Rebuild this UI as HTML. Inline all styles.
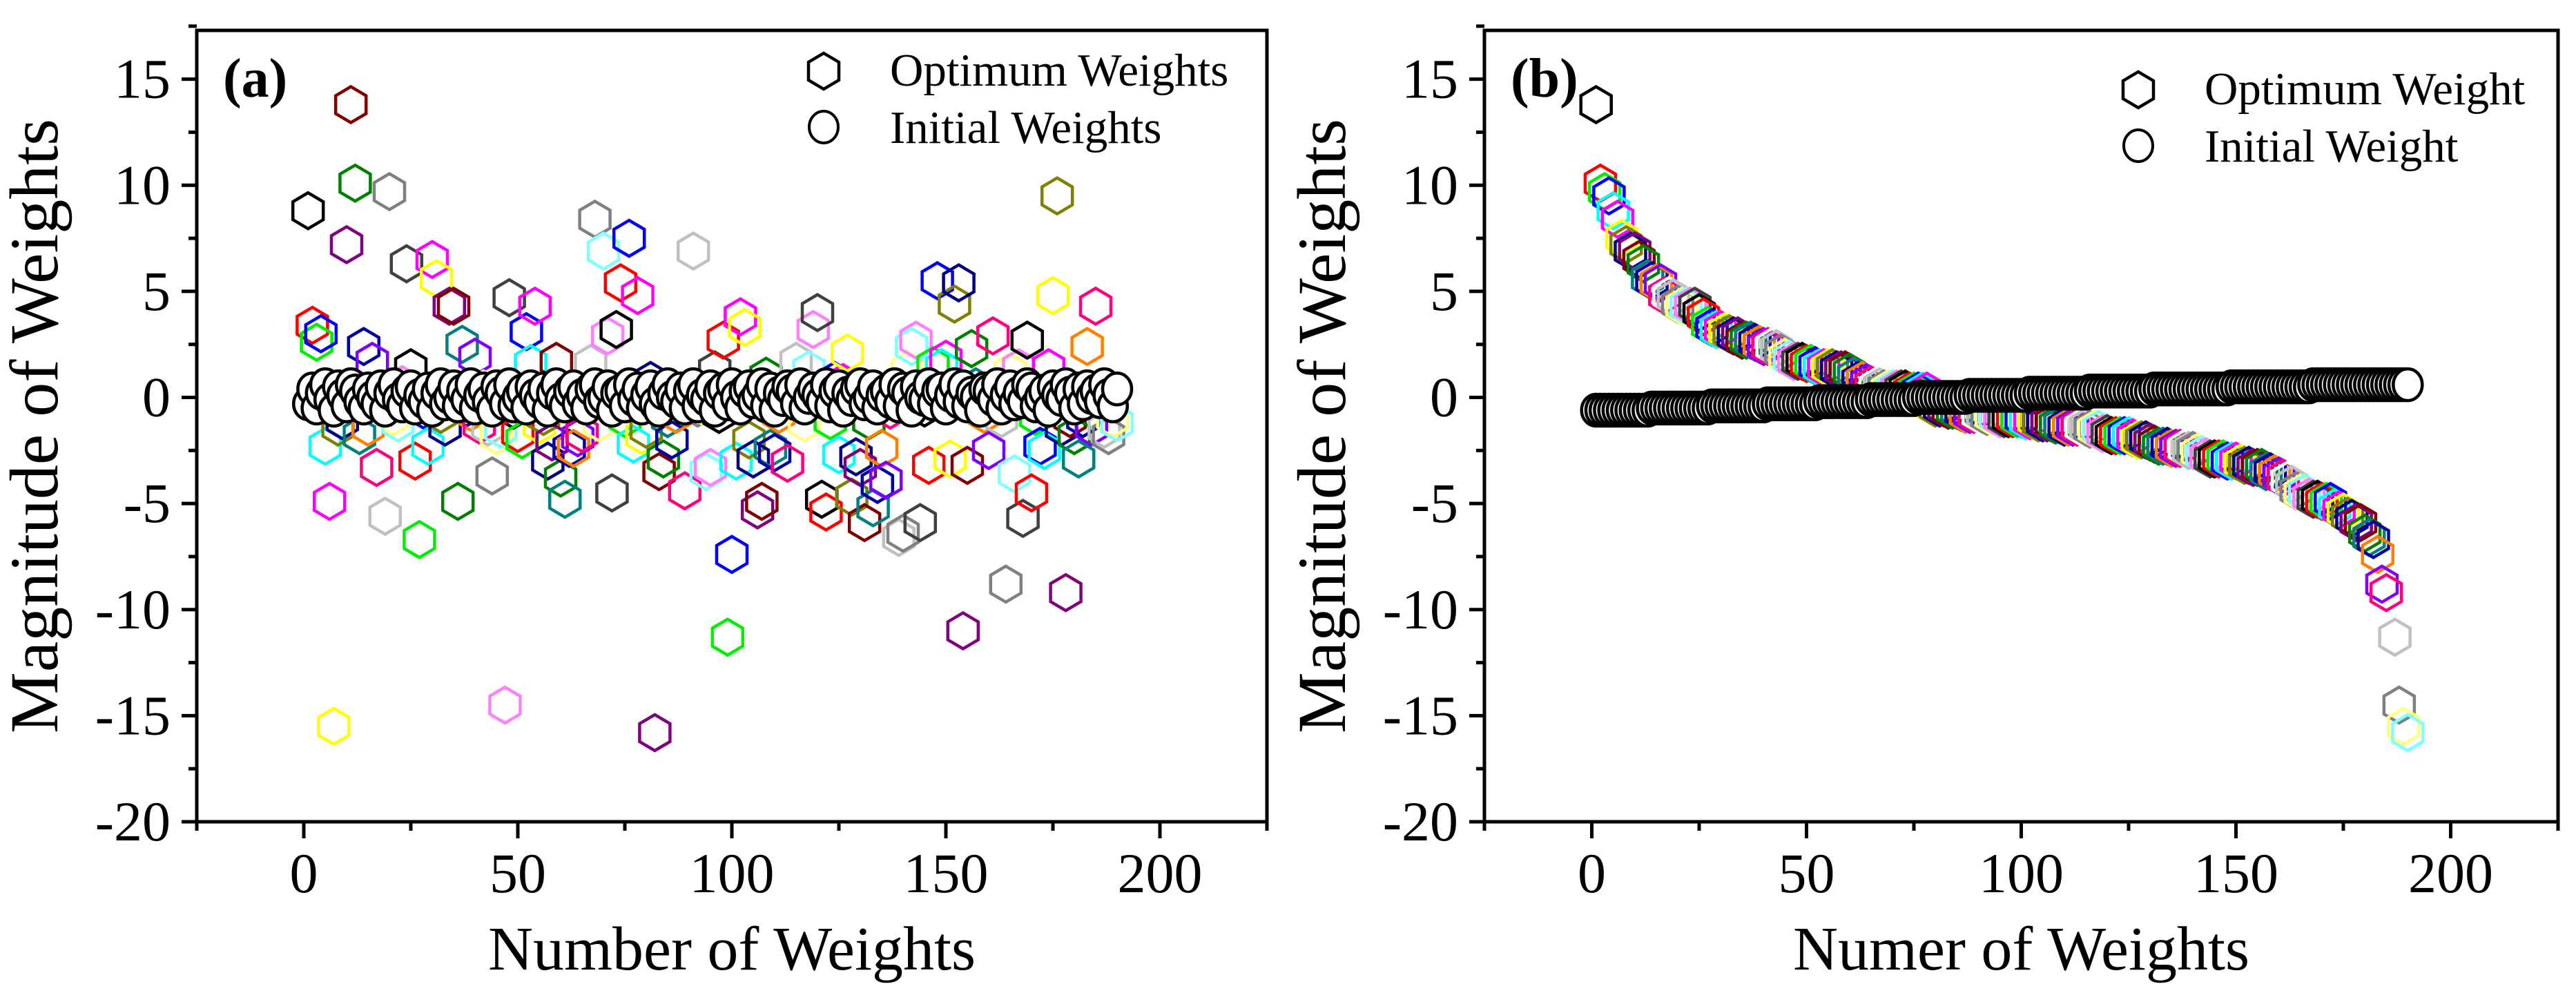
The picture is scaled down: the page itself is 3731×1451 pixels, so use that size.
<!DOCTYPE html>
<html><head><meta charset="utf-8"><style>
html,body{margin:0;padding:0;background:#fff;}
svg{display:block;font-family:"Liberation Serif","DejaVu Serif",serif;}
text{font-family:"Liberation Serif","DejaVu Serif",serif;}
</style></head><body>
<svg id="chart" width="3731" height="1451" viewBox="0 0 3731 1451" xmlns="http://www.w3.org/2000/svg">
<rect width="3731" height="1451" fill="#fff"/>
</svg>
<script>
// ---- data ----
const xTicks = [0, 50, 100, 150, 200];
const yTicks = [15, 10, 5, 0, -5, -10, -15, -20];
const optimumWeights = [
8.8,3.4,2.6,3.0,-2.3,-4.9,-15.5,-1.4,-1.1,7.2,13.8,10.1,-1.8,2.4,-1.4,1.7,-3.3,0.5,-5.6,9.7,
-0.9,-1.2,0.6,6.3,1.4,-3.0,-6.7,-0.6,-2.3,6.5,5.6,-0.8,-1.4,4.3,4.3,-4.9,2.5,-0.5,-0.7,1.9,
-1.3,0.4,-1.4,-3.7,-1.8,-1.5,-14.5,4.7,-0.6,-1.7,-2.0,3.1,1.6,4.3,-1.3,-0.9,-3.0,-2.1,1.7,-3.8,
-4.8,-2.4,-2.4,-1.9,-1.7,0.3,1.6,8.4,-1.2,6.9,2.9,-4.5,3.2,5.4,-1.0,7.5,-2.2,4.8,-1.8,-1.5,
0.8,-15.8,-3.5,-2.9,-1.0,-2.0,-0.8,0.3,-4.4,0.4,6.9,-0.5,-0.4,-3.5,-3.3,1.3,-0.8,2.7,-11.3,-7.4,
-3.0,3.8,3.3,-2.0,-2.9,-5.3,-4.9,1.0,-2.4,-2.6,-0.8,0.3,-3.1,0.4,1.7,0.3,-1.2,1.3,3.2,4.0,
-4.8,-5.4,-1.1,0.8,-2.7,0.7,2.1,-4.7,-2.8,-3.3,-5.9,-1.1,-5.2,-4.1,-2.4,-3.9,-0.6,0.4,-6.6,-6.4,
1.3,2.4,2.7,-5.9,-0.5,-3.2,1.5,5.5,1.4,1.8,-2.9,4.4,5.4,-11.0,-3.2,2.3,0.5,0.3,-0.8,-2.5,
2.9,0.4,-1.0,-8.8,1.2,-3.6,1.4,-5.7,2.7,-4.5,-0.9,-2.3,-2.5,1.4,4.8,9.5,-1.4,-9.2,-1.0,-1.8,
-2.9,-1.0,2.4,-1.4,4.3,0.4,-1.5,-1.8,-1.0,-1.2];
const initialWeights = [
-0.3,0.4,-0.5,0.2,0.6,-0.1,-0.6,0.5,0.1,-0.4,0.6,0.3,-0.2,-0.5,0.4,0.0,-0.3,0.5,-0.6,0.2,
0.6,-0.1,-0.4,0.3,0.5,-0.5,0.1,-0.2,0.4,-0.6,0.2,0.6,-0.3,0.0,0.5,-0.4,0.3,-0.1,0.6,-0.5,
0.1,0.4,-0.2,-0.6,0.5,0.2,-0.3,0.6,-0.4,0.0,0.3,-0.5,0.5,0.1,-0.2,0.4,-0.6,0.2,0.6,-0.1,
-0.4,0.3,0.5,-0.3,0.1,-0.5,0.4,0.6,-0.2,0.0,0.5,-0.6,0.2,0.3,-0.4,0.6,-0.1,0.4,-0.5,0.1,
0.5,-0.3,-0.6,0.2,0.6,0.0,-0.2,0.4,-0.5,0.3,0.6,-0.4,0.1,-0.1,0.5,-0.6,0.2,0.4,-0.3,0.6,
0.0,-0.5,0.3,0.5,-0.2,0.1,0.6,-0.4,0.4,-0.6,0.2,-0.1,0.5,0.3,-0.3,0.6,-0.5,0.0,0.4,0.1,
-0.2,0.6,-0.4,0.3,0.5,-0.6,0.2,-0.1,0.4,0.6,-0.3,0.0,0.5,-0.5,0.1,0.3,-0.2,0.6,-0.4,0.4,
0.2,-0.6,0.5,0.0,-0.1,0.6,-0.3,0.3,0.4,-0.5,0.1,0.6,-0.2,0.5,-0.4,0.2,0.0,-0.6,0.4,0.3,
-0.1,0.6,-0.5,0.1,0.5,-0.3,0.2,-0.2,0.6,0.4,-0.4,0.0,0.3,-0.6,0.5,0.1,-0.1,0.6,0.2,-0.5,
0.4,-0.3,0.5,0.0,0.3,-0.2,0.6,0.1,-0.4,0.4];
const palette = ["#000000","#ff0000","#00ee00","#0000ff","#00ffff","#ff00ff","#ffff00","#808000",
"#000080","#800080","#800000","#008000","#008080","#0000a0","#ff8000","#8000ff","#ff0080","#ffffff",
"#c0c0c0","#808080","#ffff80","#80ffff","#ff80ff","#404040"];

const NS = "http://www.w3.org/2000/svg";
const FONT = "Liberation Serif, DejaVu Serif, serif";
const svgEl = document.getElementById("chart");
function mk(tag, attrs, parent){
  const e = document.createElementNS(NS, tag);
  for (const k in attrs) e.setAttribute(k, attrs[k]);
  if (tag === "text") e.setAttribute("font-family", FONT);
  (parent || svgEl).appendChild(e);
  return e;
}
const X0 = -25, X1 = 225, Y0 = -20, Y1 = 17.3;
const plotTop = 44, plotBottom = 1190;
const hexPts = "0,-26 22,-13 22,13 0,26 -22,13 -22,-13";

function drawPanel(id, left, right, optVals, initVals, label, xTitle, legendNames, legendDy){
  const g = mk("g", {});
  
  
  const sx = v => left + (v - X0) / (X1 - X0) * (right - left);
  const sy = v => plotBottom - (v - Y0) / (Y1 - Y0) * (plotBottom - plotTop);

  const mg = mk("g", {}, g);
  
  
  optVals.forEach((v, i) => {
    const p = mk("polygon", {points: hexPts, transform: "translate(" + sx(i + 1) + "," + sy(v) + ")",
      fill: "none", stroke: palette[i % palette.length], "stroke-width": 4.5}, mg);
    
    
  });
  const cg = mk("g", {}, g);
  
  
  initVals.forEach((v, i) => {
    const c = mk("ellipse", {cx: sx(i + 1), cy: sy(v), rx: 21, ry: 23, fill: "#fff", stroke: "#000", "stroke-width": 4.5}, cg);
    
    
  });

  const fr = mk("rect", {x: left, y: plotTop, width: right - left, height: plotBottom - plotTop, fill: "none", stroke: "#000", "stroke-width": 5}, g);
  
  

  for (let v = -25; v <= 225; v += 25) {
    const major = v % 50 === 0;
    const t = mk("line", {x1: sx(v), x2: sx(v), y1: plotBottom, y2: plotBottom + (major ? 24 : 13), stroke: "#000", "stroke-width": 5}, g);
    
    
  }
  xTicks.forEach(v => {
    const t = mk("text", {x: sx(v), y: 1292, "text-anchor": "middle", "font-size": 82}, g);
    t.textContent = v;
    
    
  });
  for (let v = -20; v <= 17.5; v += 2.5) {
    const major = v % 5 === 0;
    const t = mk("line", {x1: left, x2: left - (major ? 22 : 12), y1: sy(v), y2: sy(v), stroke: "#000", "stroke-width": 5}, g);
    
    
  }
  yTicks.forEach(v => {
    const t = mk("text", {x: left - 38, y: sy(v) + 27, "text-anchor": "end", "font-size": 82}, g);
    t.textContent = v;
    
    
  });
  const xt = mk("text", {x: (left + right) / 2, y: 1404, "text-anchor": "middle", "font-size": 90}, g);
  xt.textContent = xTitle;
  
  
  const yt = mk("text", {x: 0, y: 0, "text-anchor": "middle", "font-size": 100,
    transform: "translate(" + (left - 202) + "," + (plotTop + plotBottom) / 2 + ") rotate(-90)"}, g);
  yt.textContent = "Magnitude of Weights";
  
  
  const pl = mk("text", {x: left + 38, y: 140, "font-size": 80, "font-weight": "bold"}, g);
  pl.textContent = label;
  
  

  const lg = mk("g", {}, g);
  
  
  const lx = right - (id === 'a' ? 642 : 608);
  const e1 = mk("polygon", {points: hexPts, transform: "translate(" + lx + "," + (103 + legendDy) + ")", fill: "none", stroke: "#000", "stroke-width": 4.5}, lg);
  
  
  const t1 = mk("text", {x: lx + 96, y: 124 + legendDy, "font-size": 67}, lg);
  t1.textContent = legendNames[0];
  
  
  const e2 = mk("ellipse", {cx: lx, cy: 184 + legendDy, rx: 21, ry: 23, fill: "#fff", stroke: "#000", "stroke-width": 4}, lg);
  
  
  const t2 = mk("text", {x: lx + 96, y: 207 + legendDy, "font-size": 67}, lg);
  t2.textContent = legendNames[1];
  
  
}

drawPanel('a', 285, 1835, optimumWeights, initialWeights, "(a)", "Number of Weights", ["Optimum Weights", "Initial Weights"], 0);
const sortedOpt = optimumWeights.slice().sort((a, b) => b - a);
const sortedInit = initialWeights.slice().sort((a, b) => a - b);
drawPanel('b', 2150, 3705, sortedOpt, sortedInit, "(b)", "Numer of Weights", ["Optimum Weight", "Initial Weight"], 27);
</script>
</body></html>
